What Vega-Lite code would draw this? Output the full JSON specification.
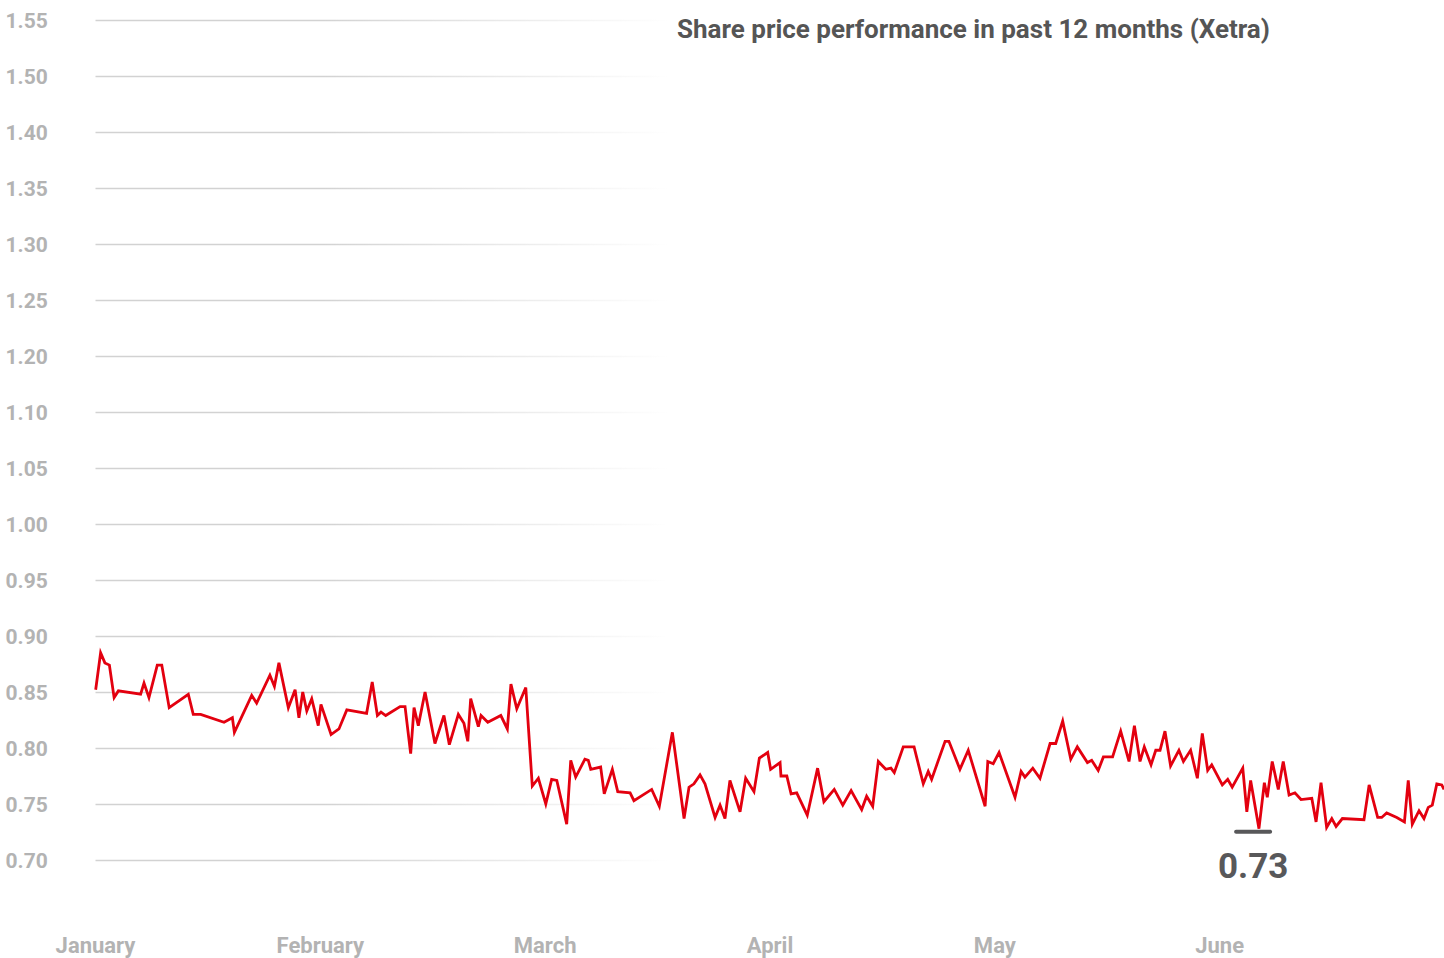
{
  "$schema": "https://vega.github.io/schema/vega-lite/v6.json",
  "width": 1349,
  "height": 840,
  "autosize": {"type": "none"},
  "padding": {"left": 95, "top": 20, "right": 0, "bottom": 98},
  "background": "#ffffff",
  "title": {
    "text": "Share price performance in past 12 months (Xetra)",
    "anchor": "start",
    "frame": "group",
    "orient": "top",
    "dx": 582,
    "dy": 38,
    "font": "Roboto, sans-serif",
    "fontSize": 26,
    "fontWeight": "bold",
    "color": "#555555",
    "zindex": 2
  },
  "datasets": {
    "prices": [
      {"t": 0.003, "price": 0.852}, {"t": 0.025, "price": 0.885}, {"t": 0.044, "price": 0.876}, {"t": 0.064, "price": 0.874},
      {"t": 0.085, "price": 0.845}, {"t": 0.104, "price": 0.851}, {"t": 0.203, "price": 0.848}, {"t": 0.218, "price": 0.858},
      {"t": 0.240, "price": 0.845}, {"t": 0.277, "price": 0.874}, {"t": 0.297, "price": 0.874}, {"t": 0.330, "price": 0.836},
      {"t": 0.415, "price": 0.848}, {"t": 0.437, "price": 0.830}, {"t": 0.470, "price": 0.830}, {"t": 0.574, "price": 0.823},
      {"t": 0.611, "price": 0.827}, {"t": 0.620, "price": 0.814}, {"t": 0.697, "price": 0.847}, {"t": 0.719, "price": 0.840},
      {"t": 0.778, "price": 0.865}, {"t": 0.798, "price": 0.855}, {"t": 0.818, "price": 0.876}, {"t": 0.860, "price": 0.836},
      {"t": 0.890, "price": 0.852}, {"t": 0.907, "price": 0.827}, {"t": 0.924, "price": 0.850}, {"t": 0.942, "price": 0.833},
      {"t": 0.964, "price": 0.844}, {"t": 0.993, "price": 0.820}, {"t": 1.005, "price": 0.839}, {"t": 1.050, "price": 0.812},
      {"t": 1.085, "price": 0.817}, {"t": 1.120, "price": 0.834}, {"t": 1.208, "price": 0.831}, {"t": 1.233, "price": 0.859},
      {"t": 1.256, "price": 0.829}, {"t": 1.272, "price": 0.832}, {"t": 1.293, "price": 0.829}, {"t": 1.357, "price": 0.837},
      {"t": 1.379, "price": 0.837}, {"t": 1.404, "price": 0.795}, {"t": 1.419, "price": 0.836}, {"t": 1.438, "price": 0.820},
      {"t": 1.468, "price": 0.850}, {"t": 1.512, "price": 0.804}, {"t": 1.552, "price": 0.829}, {"t": 1.576, "price": 0.803},
      {"t": 1.616, "price": 0.830}, {"t": 1.641, "price": 0.822}, {"t": 1.658, "price": 0.806}, {"t": 1.671, "price": 0.844},
      {"t": 1.705, "price": 0.819}, {"t": 1.717, "price": 0.829}, {"t": 1.747, "price": 0.823}, {"t": 1.805, "price": 0.829},
      {"t": 1.834, "price": 0.817}, {"t": 1.850, "price": 0.857}, {"t": 1.876, "price": 0.835}, {"t": 1.916, "price": 0.854},
      {"t": 1.945, "price": 0.766}, {"t": 1.972, "price": 0.773}, {"t": 2.005, "price": 0.750}, {"t": 2.031, "price": 0.772},
      {"t": 2.054, "price": 0.771}, {"t": 2.098, "price": 0.732}, {"t": 2.116, "price": 0.789}, {"t": 2.138, "price": 0.774},
      {"t": 2.179, "price": 0.790}, {"t": 2.194, "price": 0.789}, {"t": 2.205, "price": 0.781}, {"t": 2.249, "price": 0.783},
      {"t": 2.265, "price": 0.759}, {"t": 2.301, "price": 0.781}, {"t": 2.325, "price": 0.761}, {"t": 2.380, "price": 0.760},
      {"t": 2.397, "price": 0.753}, {"t": 2.476, "price": 0.763}, {"t": 2.510, "price": 0.748}, {"t": 2.568, "price": 0.814},
      {"t": 2.620, "price": 0.737}, {"t": 2.642, "price": 0.765}, {"t": 2.664, "price": 0.768}, {"t": 2.691, "price": 0.776},
      {"t": 2.713, "price": 0.768}, {"t": 2.758, "price": 0.738}, {"t": 2.780, "price": 0.749}, {"t": 2.802, "price": 0.737},
      {"t": 2.824, "price": 0.771}, {"t": 2.869, "price": 0.743}, {"t": 2.894, "price": 0.773}, {"t": 2.931, "price": 0.761},
      {"t": 2.955, "price": 0.791}, {"t": 2.992, "price": 0.796}, {"t": 3.005, "price": 0.781}, {"t": 3.047, "price": 0.787},
      {"t": 3.051, "price": 0.775}, {"t": 3.077, "price": 0.775}, {"t": 3.096, "price": 0.759}, {"t": 3.121, "price": 0.760},
      {"t": 3.168, "price": 0.740}, {"t": 3.214, "price": 0.782}, {"t": 3.242, "price": 0.752}, {"t": 3.288, "price": 0.763},
      {"t": 3.326, "price": 0.749}, {"t": 3.363, "price": 0.762}, {"t": 3.410, "price": 0.745}, {"t": 3.432, "price": 0.757},
      {"t": 3.459, "price": 0.748}, {"t": 3.484, "price": 0.788}, {"t": 3.517, "price": 0.781}, {"t": 3.540, "price": 0.782},
      {"t": 3.555, "price": 0.778}, {"t": 3.595, "price": 0.801}, {"t": 3.643, "price": 0.801}, {"t": 3.684, "price": 0.768},
      {"t": 3.706, "price": 0.779}, {"t": 3.721, "price": 0.772}, {"t": 3.781, "price": 0.806}, {"t": 3.798, "price": 0.806},
      {"t": 3.847, "price": 0.781}, {"t": 3.884, "price": 0.798}, {"t": 3.959, "price": 0.748}, {"t": 3.971, "price": 0.788},
      {"t": 3.995, "price": 0.786}, {"t": 4.021, "price": 0.796}, {"t": 4.092, "price": 0.756}, {"t": 4.119, "price": 0.779},
      {"t": 4.136, "price": 0.774}, {"t": 4.171, "price": 0.782}, {"t": 4.203, "price": 0.773}, {"t": 4.248, "price": 0.804},
      {"t": 4.273, "price": 0.804}, {"t": 4.304, "price": 0.824}, {"t": 4.340, "price": 0.790}, {"t": 4.369, "price": 0.801},
      {"t": 4.414, "price": 0.787}, {"t": 4.433, "price": 0.789}, {"t": 4.462, "price": 0.780}, {"t": 4.485, "price": 0.792},
      {"t": 4.526, "price": 0.792}, {"t": 4.562, "price": 0.815}, {"t": 4.599, "price": 0.788}, {"t": 4.623, "price": 0.820},
      {"t": 4.648, "price": 0.788}, {"t": 4.667, "price": 0.801}, {"t": 4.697, "price": 0.785}, {"t": 4.718, "price": 0.798},
      {"t": 4.737, "price": 0.798}, {"t": 4.759, "price": 0.815}, {"t": 4.784, "price": 0.784}, {"t": 4.821, "price": 0.798},
      {"t": 4.841, "price": 0.788}, {"t": 4.873, "price": 0.798}, {"t": 4.903, "price": 0.773}, {"t": 4.925, "price": 0.813},
      {"t": 4.949, "price": 0.780}, {"t": 4.967, "price": 0.785}, {"t": 5.014, "price": 0.767}, {"t": 5.038, "price": 0.772},
      {"t": 5.058, "price": 0.765}, {"t": 5.105, "price": 0.782}, {"t": 5.123, "price": 0.743}, {"t": 5.140, "price": 0.771},
      {"t": 5.177, "price": 0.728}, {"t": 5.201, "price": 0.769}, {"t": 5.214, "price": 0.756}, {"t": 5.236, "price": 0.788},
      {"t": 5.263, "price": 0.763}, {"t": 5.285, "price": 0.788}, {"t": 5.311, "price": 0.758}, {"t": 5.337, "price": 0.760},
      {"t": 5.364, "price": 0.754}, {"t": 5.412, "price": 0.755}, {"t": 5.431, "price": 0.734}, {"t": 5.453, "price": 0.769},
      {"t": 5.478, "price": 0.729}, {"t": 5.501, "price": 0.737}, {"t": 5.520, "price": 0.730}, {"t": 5.548, "price": 0.737},
      {"t": 5.644, "price": 0.736}, {"t": 5.667, "price": 0.767}, {"t": 5.705, "price": 0.738}, {"t": 5.723, "price": 0.738},
      {"t": 5.745, "price": 0.742}, {"t": 5.790, "price": 0.738}, {"t": 5.824, "price": 0.734}, {"t": 5.841, "price": 0.771},
      {"t": 5.859, "price": 0.732}, {"t": 5.889, "price": 0.744}, {"t": 5.911, "price": 0.737}, {"t": 5.930, "price": 0.747},
      {"t": 5.948, "price": 0.749}, {"t": 5.968, "price": 0.768}, {"t": 5.990, "price": 0.767}, {"t": 6.000, "price": 0.763}
    ],
    "low": [
      {"t": 5.151, "price": 0.7253, "label": "0.73"}
    ],
    "fade": [
      {"start": 1, "end": 6, "bottom": 0.69, "top": 1.46}
    ]
  },
  "encoding": {
    "x": {
      "field": "t",
      "type": "quantitative",
      "scale": {"domain": [0, 6], "nice": false, "zero": false},
      "axis": {
        "title": null,
        "values": [0, 1, 2, 3, 4, 5],
        "labelExpr": "['January','February','March','April','May','June'][round(datum.value)]",
        "grid": false,
        "domain": false,
        "ticks": false,
        "tickSize": 0,
        "labelPadding": 75,
        "labelFont": "Roboto, sans-serif",
        "labelFontSize": 22,
        "labelFontWeight": "bold",
        "labelColor": "#b3b3b3",
        "labelFlush": false,
        "labelOverlap": false
      }
    },
    "y": {
      "field": "price",
      "type": "quantitative",
      "scale": {"domain": [0.7, 1.45], "nice": false, "zero": false},
      "axis": {
        "title": null,
        "values": [0.7, 0.75, 0.8, 0.85, 0.9, 0.95, 1.0, 1.05, 1.1, 1.15, 1.2, 1.25, 1.3, 1.35, 1.4, 1.45],
        "labelExpr": "['0.70','0.75','0.80','0.85','0.90','0.95','1.00','1.05','1.10','1.20','1.25','1.30','1.35','1.40','1.50','1.55'][round((datum.value - 0.7) / 0.05)]",
        "grid": true,
        "gridColor": "#d2d2d2",
        "gridWidth": 1.3,
        "domain": false,
        "ticks": false,
        "tickSize": 0,
        "labelAlign": "left",
        "labelBaseline": "middle",
        "labelPadding": 90,
        "labelOffset": 1.5,
        "labelFont": "Roboto, sans-serif",
        "labelFontSize": 21,
        "labelFontWeight": "bold",
        "labelColor": "#b3b3b3",
        "labelFlush": false,
        "labelOverlap": false
      }
    }
  },
  "layer": [
    {
      "data": {"name": "fade"},
      "mark": {
        "type": "rect",
        "fill": {
          "gradient": "linear",
          "x1": 0, "y1": 0, "x2": 1, "y2": 0,
          "stops": [
            {"offset": 0, "color": "rgba(255,255,255,0)"},
            {"offset": 0.31, "color": "#ffffff"},
            {"offset": 1, "color": "#ffffff"}
          ]
        },
        "opacity": 1
      },
      "encoding": {
        "x": {"field": "start", "type": "quantitative"},
        "x2": {"field": "end"},
        "y": {"field": "bottom", "type": "quantitative"},
        "y2": {"field": "top"}
      }
    },
    {
      "data": {"name": "prices"},
      "mark": {"type": "line", "color": "#e3000f", "strokeWidth": 2.8, "strokeJoin": "miter"}
    },
    {
      "data": {"name": "low"},
      "mark": {"type": "tick", "orient": "horizontal", "size": 38, "thickness": 4, "color": "#58585a", "opacity": 1, "cornerRadius": 2}
    },
    {
      "data": {"name": "low"},
      "mark": {
        "type": "text",
        "dy": 35,
        "font": "Roboto, sans-serif",
        "fontSize": 35,
        "fontWeight": "bold",
        "color": "#58585a",
        "align": "center",
        "baseline": "middle"
      },
      "encoding": {"text": {"field": "label"}}
    }
  ],
  "config": {
    "view": {"stroke": null}
  }
}
